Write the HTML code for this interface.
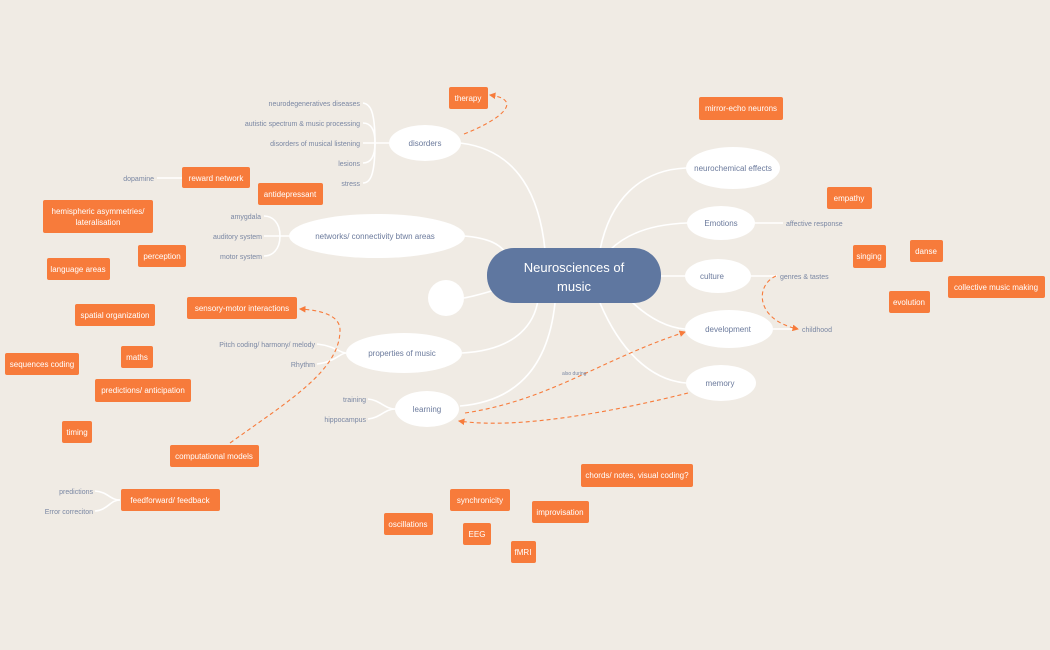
<!DOCTYPE html>
<html><head><meta charset="utf-8"><style>
html,body{margin:0;padding:0;background:#f0ebe4;}
svg{display:block;}
text{font-family:"Liberation Sans",sans-serif;}
.b{fill:#f77b3b;}
.bt{fill:#fff;font-size:8px;text-anchor:middle;}
.et{fill:#6b7a9c;font-size:8px;text-anchor:middle;}
.lt{fill:#7a87a3;font-size:7px;}
.w{stroke:#fff;stroke-width:1.6;fill:none;}
.d{stroke:#f77b3b;stroke-width:1.1;fill:none;stroke-dasharray:4 3;}
</style></head><body>
<svg width="1050" height="650" viewBox="0 0 1050 650" xmlns="http://www.w3.org/2000/svg">
<defs><marker id="a" markerWidth="6" markerHeight="6" refX="5" refY="3" orient="auto"><path d="M0,0 L6,3 L0,6z" fill="#f77b3b"/></marker></defs>
<!-- main branches -->
<path class="w" d="M460,143 C520,150 540,200 545,250"/>
<path class="w" d="M464,236 C490,238 500,245 505,252"/>
<path class="w" d="M464,298 C475,296 485,293 495,290"/>
<path class="w" d="M462,353 C520,350 535,320 538,300"/>
<path class="w" d="M460,406 C530,400 550,350 555,303"/>
<path class="w" d="M600,250 C610,200 640,170 686,168"/>
<path class="w" d="M610,250 C630,230 660,224 687,223"/>
<path class="w" d="M661,276 L685,276"/>
<path class="w" d="M630,300 C650,320 670,328 685,329"/>
<path class="w" d="M600,303 C620,350 650,380 686,383"/>
<!-- sub branches -->
<g class="w">
<path d="M389,143 L363,143"/><path d="M375,143 C375,110 370,104 363,103"/><path d="M375,143 C375,128 370,123 363,123"/><path d="M375,143 C375,158 370,163 363,163"/><path d="M375,143 C375,176 370,183 363,183"/>
<path d="M289,236 L264,236"/><path d="M280,236 C280,222 272,216 264,216"/><path d="M280,236 C280,250 272,256 264,256"/>
<path d="M346,353 C340,353 335,346 317,344"/><path d="M346,353 C340,353 335,362 317,364"/>
<path d="M395,409 C385,409 380,400 368,399"/><path d="M395,409 C385,409 380,418 368,419"/>
<path d="M120,500 C110,500 108,492 95,491"/><path d="M120,500 C110,500 108,510 95,511"/>
<path d="M182,178 L157,178"/>
<path d="M755,223 L783,223"/><path d="M751,276 L777,276"/><path d="M773,329 L799,329"/>
</g>
<!-- dashed -->
<path class="d" d="M464,134 C500,120 525,100 490,95" marker-end="url(#a)"/>
<path class="d" d="M230,443 C290,400 340,370 340,330 C340,315 320,310 300,309" marker-end="url(#a)"/>
<path class="d" d="M465,413 C550,400 600,360 685,332" marker-end="url(#a)"/>
<path class="d" d="M688,393 C620,410 520,430 459,421" marker-end="url(#a)"/>
<path class="d" d="M776,276 C755,285 755,320 798,329" marker-end="url(#a)"/>
<!-- center -->
<rect x="487" y="248" width="174" height="55" rx="27" fill="#5f77a0"/>
<text x="574" y="272" fill="#fff" font-size="13" text-anchor="middle">Neurosciences of</text>
<text x="574" y="291" fill="#fff" font-size="13" text-anchor="middle">music</text>
<!-- ellipses -->
<g fill="#fff">
<ellipse cx="425" cy="143" rx="36" ry="18"/><ellipse cx="377" cy="236" rx="88" ry="22"/><circle cx="446" cy="298" r="18"/>
<ellipse cx="404" cy="353" rx="58" ry="20"/><ellipse cx="427" cy="409" rx="32" ry="18"/>
<ellipse cx="733" cy="168" rx="47" ry="21"/><ellipse cx="721" cy="223" rx="34" ry="17"/><ellipse cx="718" cy="276" rx="33" ry="17"/>
<ellipse cx="729" cy="329" rx="44" ry="19"/><ellipse cx="721" cy="383" rx="35" ry="18"/>
</g>
<text class="et" x="425" y="146">disorders</text>
<text class="et" x="375" y="239">networks/ connectivity btwn areas</text>
<text class="et" x="402" y="356">properties of music</text>
<text class="et" x="427" y="412">learning</text>
<text class="et" x="733" y="171">neurochemical effects</text>
<text class="et" x="721" y="226">Emotions</text>
<text class="et" x="712" y="279">culture</text>
<text class="et" x="728" y="332">development</text>
<text class="et" x="720" y="386">memory</text>
<!-- leaf labels -->
<g class="lt" text-anchor="end">
<text x="360" y="106">neurodegeneratives diseases</text>
<text x="360" y="126">autistic spectrum &amp; music processing</text>
<text x="360" y="146">disorders of musical listening</text>
<text x="360" y="166">lesions</text>
<text x="360" y="186">stress</text>
<text x="154" y="181">dopamine</text>
<text x="261" y="219">amygdala</text>
<text x="262" y="239">auditory system</text>
<text x="262" y="259">motor system</text>
<text x="315" y="347">Pitch coding/ harmony/ melody</text>
<text x="315" y="367">Rhythm</text>
<text x="366" y="402">training</text>
<text x="366" y="422">hippocampus</text>
<text x="93" y="494">predictions</text>
<text x="93" y="514">Error correciton</text>
</g>
<g class="lt">
<text x="786" y="226">affective response</text>
<text x="780" y="279">genres &amp; tastes</text>
<text x="802" y="332">childhood</text>
<text x="562" y="375" font-size="5">also during</text>
</g>
<!-- orange boxes -->
<g>
<rect class="b" x="449" y="87" width="39" height="22" rx="2"/><text class="bt" x="468" y="101">therapy</text>
<rect class="b" x="699" y="97" width="84" height="23" rx="2"/><text class="bt" x="741" y="111">mirror-echo neurons</text>
<rect class="b" x="182" y="167" width="68" height="21" rx="2"/><text class="bt" x="216" y="181">reward network</text>
<rect class="b" x="258" y="183" width="65" height="22" rx="2"/><text class="bt" x="290" y="197">antidepressant</text>
<rect class="b" x="43" y="200" width="110" height="33" rx="2"/><text class="bt" x="98" y="214">hemispheric asymmetries/</text><text class="bt" x="98" y="225">lateralisation</text>
<rect class="b" x="138" y="245" width="48" height="22" rx="2"/><text class="bt" x="162" y="259">perception</text>
<rect class="b" x="47" y="258" width="63" height="22" rx="2"/><text class="bt" x="78" y="272">language areas</text>
<rect class="b" x="827" y="187" width="45" height="22" rx="2"/><text class="bt" x="849" y="201">empathy</text>
<rect class="b" x="853" y="245" width="33" height="23" rx="2"/><text class="bt" x="869" y="259">singing</text>
<rect class="b" x="910" y="240" width="33" height="22" rx="2"/><text class="bt" x="926" y="254">danse</text>
<rect class="b" x="948" y="276" width="97" height="22" rx="2"/><text class="bt" x="996" y="290">collective music making</text>
<rect class="b" x="889" y="291" width="41" height="22" rx="2"/><text class="bt" x="909" y="305">evolution</text>
<rect class="b" x="187" y="297" width="110" height="22" rx="2"/><text class="bt" x="242" y="311">sensory-motor interactions</text>
<rect class="b" x="75" y="304" width="80" height="22" rx="2"/><text class="bt" x="115" y="318">spatial organization</text>
<rect class="b" x="121" y="346" width="32" height="22" rx="2"/><text class="bt" x="137" y="360">maths</text>
<rect class="b" x="5" y="353" width="74" height="22" rx="2"/><text class="bt" x="42" y="367">sequences coding</text>
<rect class="b" x="95" y="379" width="96" height="23" rx="2"/><text class="bt" x="143" y="393">predictions/ anticipation</text>
<rect class="b" x="62" y="421" width="30" height="22" rx="2"/><text class="bt" x="77" y="435">timing</text>
<rect class="b" x="170" y="445" width="89" height="22" rx="2"/><text class="bt" x="214" y="459">computational models</text>
<rect class="b" x="121" y="489" width="99" height="22" rx="2"/><text class="bt" x="170" y="503">feedforward/ feedback</text>
<rect class="b" x="581" y="464" width="112" height="23" rx="2"/><text class="bt" x="637" y="478">chords/ notes, visual coding?</text>
<rect class="b" x="450" y="489" width="60" height="22" rx="2"/><text class="bt" x="480" y="503">synchronicity</text>
<rect class="b" x="532" y="501" width="57" height="22" rx="2"/><text class="bt" x="560" y="515">improvisation</text>
<rect class="b" x="384" y="513" width="49" height="22" rx="2"/><text class="bt" x="408" y="527">oscillations</text>
<rect class="b" x="463" y="523" width="28" height="22" rx="2"/><text class="bt" x="477" y="537">EEG</text>
<rect class="b" x="511" y="541" width="25" height="22" rx="2"/><text class="bt" x="523" y="555">fMRI</text>
</g>
</svg>
</body></html>
